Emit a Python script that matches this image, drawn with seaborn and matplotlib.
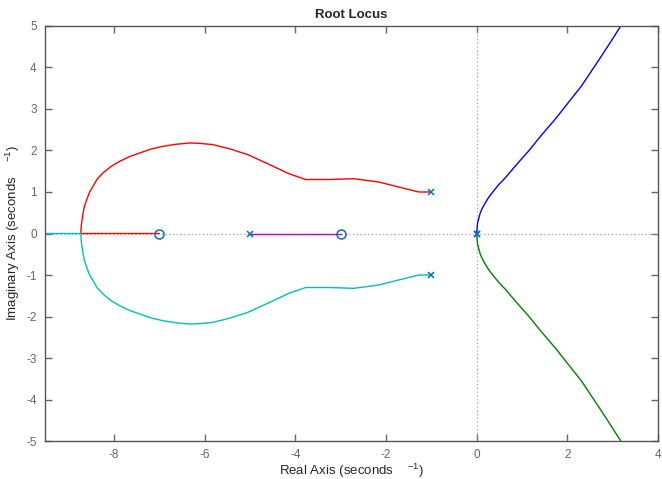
import matplotlib
matplotlib.use("Agg")
import matplotlib.pyplot as plt
import seaborn as sns

# Locus branches (real part, imaginary part)
red_re = [-1.02, -1.28, -1.65, -2.16, -2.71, -3.26, -3.77, -4.14, -4.57, -5.05,
          -5.45, -5.82, -6.10, -6.33, -6.62, -6.92, -7.19, -7.43, -7.66, -7.87,
          -8.07, -8.24, -8.37, -8.46, -8.54, -8.60, -8.66, -8.69, -8.72, -8.73,
          -8.73, -7.00]
red_im = [1.00, 1.00, 1.10, 1.24, 1.32, 1.30, 1.30, 1.44, 1.66, 1.90,
          2.04, 2.14, 2.17, 2.18, 2.15, 2.10, 2.03, 1.94, 1.85, 1.74,
          1.61, 1.46, 1.31, 1.14, 0.99, 0.82, 0.62, 0.42, 0.20, 0.00,
          0.00, 0.00]

cyan_re = [-1.02, -1.28, -1.65, -2.16, -2.71, -3.26, -3.77, -4.14, -4.57, -5.05,
           -5.45, -5.82, -6.10, -6.33, -6.62, -6.92, -7.19, -7.43, -7.66, -7.87,
           -8.07, -8.24, -8.37, -8.46, -8.54, -8.60, -8.66, -8.69, -8.72, -8.73,
           -9.60]
cyan_im = [-1.00, -1.00, -1.10, -1.24, -1.32, -1.30, -1.30, -1.44, -1.66, -1.90,
           -2.04, -2.14, -2.17, -2.18, -2.15, -2.10, -2.03, -1.94, -1.85, -1.74,
           -1.61, -1.46, -1.31, -1.14, -0.99, -0.82, -0.62, -0.42, -0.20, 0.00,
           0.00]

magenta_re = [-5.00, -3.00]
magenta_im = [0.00, 0.00]

blue_re = [0.00, 0.01, 0.02, 0.05, 0.08, 0.13, 0.19, 0.27, 0.37, 0.49, 0.63, 0.88, 1.14, 1.43, 1.73, 2.02, 2.31, 2.53, 2.75, 2.97, 3.18]
blue_im = [0.00, 0.13, 0.26, 0.38, 0.50, 0.62, 0.74, 0.88, 1.02, 1.18, 1.34, 1.66, 1.98, 2.37, 2.75, 3.15, 3.55, 3.91, 4.27, 4.64, 5.00]

green_re = [0.00, 0.01, 0.02, 0.05, 0.08, 0.13, 0.19, 0.27, 0.37, 0.49, 0.63, 0.88, 1.14, 1.43, 1.73, 2.02, 2.31, 2.53, 2.75, 2.97, 3.18]
green_im = [0.00, -0.13, -0.26, -0.38, -0.50, -0.62, -0.74, -0.88, -1.02, -1.18, -1.34, -1.66, -1.98, -2.37, -2.75, -3.15, -3.55, -3.91, -4.27, -4.64, -5.00]

# Open-loop poles and zeros
pole_re = [-1.0, -1.0, -5.0, 0.0, 0.0]
pole_im = [1.0, -1.0, 0.0, 0.0, 0.0]
zero_re = [-7.0, -3.0]
zero_im = [0.0, 0.0]

x_ticks = [-8, -6, -4, -2, 0, 2, 4]
y_ticks = [-5, -4, -3, -2, -1, 0, 1, 2, 3, 4, 5]

sns.set_theme(style="white")
plt.rcParams["font.family"] = ["Liberation Sans", "DejaVu Sans"]
plt.rcParams["mathtext.fontset"] = "custom"
plt.rcParams["mathtext.rm"] = "Liberation Sans"
plt.rcParams["mathtext.it"] = "Liberation Sans"

fig = plt.figure(figsize=(6.62, 4.79), dpi=100)
ax = fig.add_axes([0.068, 0.079, 0.926, 0.867])

# reference axes through the origin
ax.axhline(0, color="#a0a0a0", lw=0.9, ls=(0, (1, 2)), zorder=1)
ax.axvline(0, color="#a0a0a0", lw=0.9, ls=(0, (1, 2)), zorder=1)

branches = [
    (red_re, red_im, "#ff0000"),
    (cyan_re, cyan_im, "#00bfbf"),
    (magenta_re, magenta_im, "#bf00bf"),
    (blue_re, blue_im, "#0000ff"),
    (green_re, green_im, "#008000"),
]
for re, im, c in branches:
    sns.lineplot(x=re, y=im, sort=False, estimator=None, color=c, lw=1.0, ax=ax, zorder=2)

ax.plot(pole_re, pole_im, ls="none", marker="x", ms=4.5, mew=1.1, color="#0072bd", zorder=3)
ax.plot(zero_re, zero_im, ls="none", marker="o", ms=6.5, mew=1.1, mfc="none", mec="#0072bd", zorder=3)

ax.set_xlim(-9.52, 4)
ax.set_ylim(-5, 5)
ax.set_xticks(x_ticks)
ax.set_yticks(y_ticks)
ax.set_xticklabels([str(t) for t in x_ticks])
ax.set_yticklabels([str(t) for t in y_ticks])

for s in ax.spines.values():
    s.set_color("#555555")
    s.set_linewidth(1.0)
ax.tick_params(direction="in", length=5, width=1.0, color="#666666",
               labelcolor="#666666", labelsize=8.5, top=True, right=True,
               left=True, bottom=True)
ax.tick_params(axis="x", pad=6)
ax.tick_params(axis="y", pad=6)

ax.set_title("Root Locus", fontsize=9.5, fontweight="bold", pad=6)
ax.set_xlabel(r"Real Axis (seconds    $^{-1}$)", fontsize=9.5, labelpad=0)
ax.set_ylabel(r"Imaginary Axis (seconds    $^{-1}$)", fontsize=9.5, labelpad=3)

fig.savefig("out.png", dpi=100)
